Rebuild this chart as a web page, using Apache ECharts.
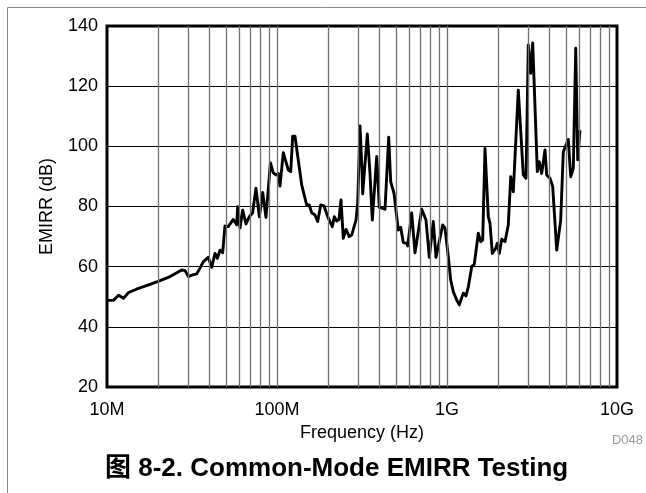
<!DOCTYPE html>
<html>
<head>
<meta charset="utf-8">
<script src="https://cdn.jsdelivr.net/npm/echarts@6/dist/echarts.min.js"></script>
<style>
  html, body { margin: 0; padding: 0; background: #fff; }
  #chart { width: 646px; height: 493px; }
</style>
</head>
<body>
<div id="chart"></div>
<script>
// Frequency points in MHz
const freqMHz = [
  10.0, 10.9, 11.7, 12.5, 13.4, 14.9, 17.9, 20.0, 23.5, 27.5, 28.8, 30.1, 31.5, 33.7, 35.2, 36.9,
  39.4, 41.3, 43.2, 44.6, 46.2, 47.9, 49.4, 51.7, 55.3, 57.9, 58.7, 60.6, 62.8, 65.7, 68.7, 71.9,
  75.2, 78.7, 82.4, 86.1, 91.5, 95.1, 98.6, 101.8, 104.1, 108.9, 111.4, 116.6, 120.4, 123.7, 127.6,
  131.7, 135.3, 139.8, 149.5, 154.9, 160.0, 167.3, 173.5, 180.8, 189.0, 200.4, 205.0, 211.5, 217.3,
  224.5, 231.6, 237.9, 245.5, 254.6, 266.2, 275.0, 291.5, 298.3, 307.8, 316.2, 319.2, 339.8, 352.4,
  363.6, 386.0, 399.8, 431.8, 454.0, 466.5, 487.8, 517.0, 534.0, 553.3, 579.4, 587.3, 620.0, 648.3,
  709.9, 752.5, 786.9, 830.6, 861.5, 943.4, 973.2, 1018, 1051, 1089, 1140, 1181, 1247, 1294, 1335,
  1398, 1447, 1528, 1578, 1622, 1673, 1750, 1790, 1847, 1934, 1977, 2031, 2098, 2194, 2294, 2370,
  2455, 2627, 2811, 2916, 3008, 3108, 3193, 3398, 3491, 3607, 3771, 3859, 4035, 4186, 4419, 4666,
  4832, 5171, 5342, 5534, 5718, 5874, 6059
];

// Common-mode EMIRR in dB at each frequency point
const emirrDb = [
  48.8, 48.8, 50.5, 49.5, 51.4, 52.5, 54.1, 55.1, 56.7, 58.9, 58.7, 56.7, 57.2, 57.6, 59.5, 61.7,
  63.1, 59.8, 64.4, 62.8, 65.5, 64.6, 73.5, 73.3, 75.7, 73.9, 79.9, 72.8, 78.8, 74.2, 76.6, 77.9,
  86.1, 76.6, 84.7, 76.4, 94.5, 91.2, 90.5, 91.0, 86.8, 97.9, 98.2, 92.1, 91.6, 103.4, 103.4,
  97.7, 97.9, 87.1, 80.5, 80.5, 77.9, 77.2, 75.0, 80.5, 80.2, 76.1, 76.1, 73.3, 76.6,
  75.2, 75.7, 82.2, 69.4, 72.4, 70.0, 70.5, 75.5, 81.1, 106.8, 92.1, 84.2, 104.1, 91.0,
  75.5, 96.6, 79.7, 79.1, 103.0, 88.2, 84.4, 72.2, 73.1, 68.0, 67.8, 66.9, 77.9, 64.6,
  79.1, 75.5, 63.1, 75.0, 63.1, 73.9, 72.8, 63.3, 55.6, 51.7, 48.9, 47.3, 51.2, 50.3, 53.3,
  60.0, 60.8, 71.1, 68.3, 68.9, 99.3, 76.6, 74.4, 64.4, 66.1, 67.8, 64.4, 69.1, 68.3, 73.9, 89.9,
  84.9, 118.7, 90.5, 89.4, 133.7, 124.3, 134.4, 91.6, 94.9, 91.0, 98.8, 90.5, 89.4, 86.6, 65.5, 75.5,
  98.2, 102.3, 89.9, 92.7, 132.6, 95.5, 105.4
];

// Axis tick values (MHz) and their labels
const xTickValues = [10, 100, 1000, 10000];
const xTickLabels = ['10M', '100M', '1G', '10G'];
const yTicks = [20, 40, 60, 80, 100, 120, 140];

const FONT = "'Liberation Sans', Arial, 'Noto Sans CJK SC', sans-serif";

// Vertical grid lines at 1..9 x each decade
const vGrid = [];
for (let d = 0; d < xTickValues.length - 1; d++) {
  for (let k = 1; k <= 9; k++) {
    if (d === 0 && k === 1) continue;
    vGrid.push({ xAxis: xTickValues[d] * k });
  }
}

const chart = echarts.init(document.getElementById('chart'), null, { renderer: 'canvas' });

chart.setOption({
  animation: false,
  backgroundColor: '#fff',
  grid: {
    left: 107, right: 29, top: 26, bottom: 106,
    show: true, borderColor: '#000', borderWidth: 3, backgroundColor: 'transparent', z: 5
  },
  xAxis: {
    type: 'log',
    logBase: 10,
    min: xTickValues[0],
    max: xTickValues[xTickValues.length - 1],
    axisLine: { show: false },
    axisTick: { show: false },
    splitLine: { show: false },
    axisLabel: {
      color: '#000', fontSize: 18, fontFamily: FONT, margin: 14,
      formatter: v => {
        const i = xTickValues.findIndex(t => Math.abs(t - v) / t < 1e-6);
        return i >= 0 ? xTickLabels[i] : '';
      }
    },
    name: 'Frequency (Hz)',
    nameLocation: 'middle',
    nameGap: 37,
    nameTextStyle: { color: '#000', fontSize: 18, fontFamily: FONT }
  },
  yAxis: {
    type: 'value',
    min: yTicks[0],
    max: yTicks[yTicks.length - 1],
    interval: 20,
    axisLine: { show: false },
    axisTick: { show: false },
    splitLine: { show: true, lineStyle: { color: '#000', width: 1 } },
    axisLabel: { color: '#000', fontSize: 18, fontFamily: FONT, margin: 9 },
    name: 'EMIRR (dB)',
    nameLocation: 'middle',
    nameGap: 51,
    nameTextStyle: { color: '#000', fontSize: 18, fontFamily: FONT }
  },
  series: [
    {
      // vertical frequency grid
      type: 'line',
      data: [],
      z: 1,
      silent: true,
      markLine: {
        silent: true,
        symbol: ['none', 'none'],
        label: { show: false },
        lineStyle: { color: '#707070', width: 1.3, type: 'solid' },
        data: vGrid
      }
    },
    {
      name: 'EMIRR',
      type: 'line',
      z: 3,
      showSymbol: false,
      symbol: 'none',
      data: freqMHz.map((f, i) => [f, emirrDb[i]]),
      lineStyle: { color: '#000', width: 2.9, join: 'round' }
    }
  ],
  graphic: [
    {
      type: 'line',
      shape: { x1: 7.5, y1: 7.5, x2: 646, y2: 7.5 },
      style: { stroke: '#888', lineWidth: 1 }
    },
    {
      type: 'line',
      shape: { x1: 7.5, y1: 7.5, x2: 7.5, y2: 493 },
      style: { stroke: '#888', lineWidth: 1 }
    },
    {
      type: 'text',
      right: 3,
      top: 434,
      style: { text: 'D048', fill: '#9a9a9a', font: '13px ' + FONT }
    },
    {
      type: 'text',
      left: 105,
      top: 456,
      style: { text: '图 8-2. Common-Mode EMIRR Testing', fill: '#000', font: 'bold 26px ' + FONT }
    }
  ]
});
</script>
</body>
</html>
